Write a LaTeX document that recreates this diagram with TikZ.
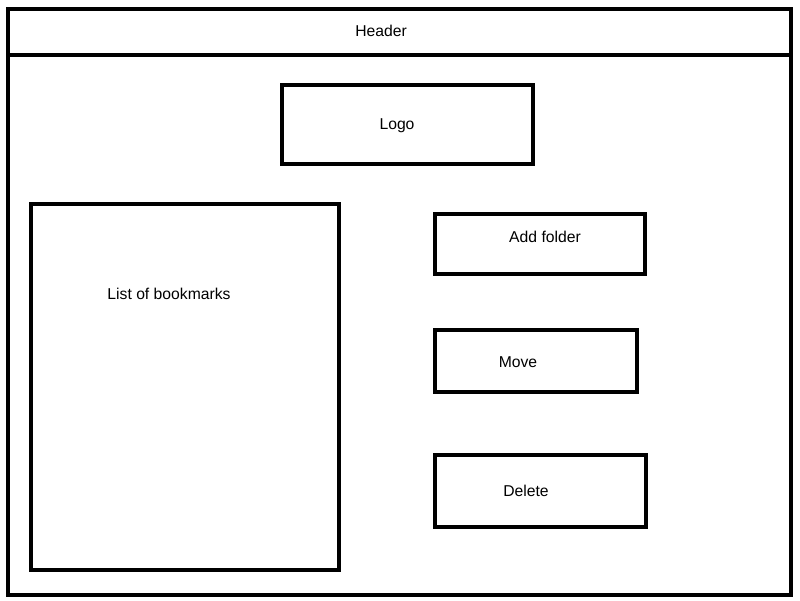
\documentclass[tikz,border=0pt]{standalone}
\usepackage{fontspec}
\setmainfont{Liberation Sans}
\begin{document}
\begin{tikzpicture}[x=1pt,y=-1pt,
  frame/.style={draw=black,line width=4pt,miter limit=10},
  box/.style={frame,rectangle,inner sep=0pt,outer sep=0pt},
  lbl/.style={inner sep=0pt,font=\fontsize{15.7}{18}\selectfont,text height=1.1ex,text depth=0pt}]
  \useasboundingbox (0,0) rectangle (800,600);
  % page outline and header bar
  \draw[frame] (8,9) rectangle (791,595);
  \coordinate (hl) at (8,55);
  \coordinate (hr) at (789,55);
  \draw[frame] (hl) -- (hr);
  \node[lbl] (header) at (381,34) {Header};
  % logo
  \node[box,minimum width=251pt,minimum height=79.5pt] (logo) at (407.5,124.25) {};
  \node[lbl] (logotext) at (397,127) {Logo};
  % bookmark list
  \node[box,minimum width=308pt,minimum height=366.5pt] (list) at (185,386.75) {};
  \node[lbl] (listtext) at (169,297) {List of bookmarks};
  % action buttons
  \node[box,minimum width=210pt,minimum height=60pt] (add) at (540,244) {};
  \node[lbl] (addtext) at (545,240) {Add folder};
  \node[box,minimum width=202pt,minimum height=62pt] (move) at (536,361) {};
  \node[lbl] (movetext) at (518,365) {Move};
  \node[box,minimum width=211pt,minimum height=72pt] (delete) at (540.5,491) {};
  \node[lbl] (deletetext) at (526,494) {Delete};
\end{tikzpicture}
\end{document}
